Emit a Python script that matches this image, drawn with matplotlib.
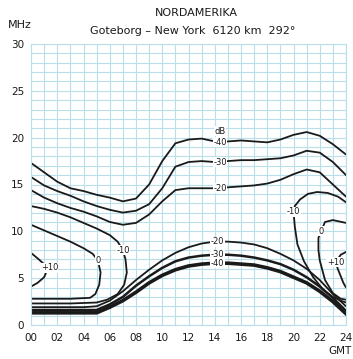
import numpy as np
import matplotlib.pyplot as plt

# hours (GMT) and contour frequencies (MHz)
hours = list(range(25))

# upper contours (MUF side)
up_m40 = [17.3, 16.3, 15.3, 14.6, 14.3, 13.9, 13.6, 13.2, 13.5, 15.0, 17.5, 19.4, 19.8,
          19.9, 19.6, 19.6, 19.7, 19.6, 19.5, 19.8, 20.3, 20.6, 20.2, 19.3, 18.2]
up_m30 = [15.8, 14.9, 14.3, 13.8, 13.2, 12.7, 12.3, 12.0, 12.2, 12.9, 14.6, 16.9, 17.4,
          17.5, 17.4, 17.5, 17.6, 17.6, 17.7, 17.8, 18.1, 18.6, 18.4, 17.4, 16.0]
up_m20 = [14.4, 13.6, 13.0, 12.5, 12.1, 11.6, 11.0, 10.7, 10.9, 11.8, 13.2, 14.4, 14.6,
          14.6, 14.6, 14.7, 14.8, 14.9, 15.1, 15.5, 16.1, 16.6, 16.3, 15.0, 13.7]

# lower contours (absorption side)
lo_m20 = [1.9, 1.9, 1.9, 1.9, 1.9, 2.0, 2.6, 3.6, 4.8, 5.9, 6.9, 7.7, 8.3,
          8.7, 8.9, 8.9, 8.8, 8.6, 8.2, 7.6, 6.9, 6.0, 4.8, 3.3, 2.0]
lo_m30 = [1.6, 1.6, 1.6, 1.6, 1.6, 1.6, 2.2, 3.0, 4.2, 5.2, 6.1, 6.8, 7.2,
          7.4, 7.5, 7.5, 7.4, 7.2, 6.9, 6.5, 5.9, 5.1, 4.1, 2.9, 1.5]
lo_m40 = [1.3, 1.3, 1.3, 1.3, 1.3, 1.3, 1.9, 2.6, 3.5, 4.5, 5.3, 5.9, 6.3,
          6.5, 6.6, 6.6, 6.5, 6.4, 6.1, 5.7, 5.1, 4.5, 3.6, 2.5, 1.2]

# closed-off contours near midnight (hour, MHz)
m10_left_h = [0, 1, 2, 3, 4, 5, 6, 6.6, 7.0, 7.2, 7.3, 7.1, 6.6, 5.8, 5.0, 3, 0]
m10_left_f = [12.7, 12.4, 12.0, 11.5, 10.9, 10.3, 9.6, 8.9, 8.0, 7.0, 5.6, 4.3, 3.3, 2.7, 2.4, 2.3, 2.3]
z_left_h = [0, 1, 2, 3, 4, 4.7, 5.1, 5.3, 5.2, 4.9, 4.5, 3, 0]
z_left_f = [10.7, 10.1, 9.5, 8.9, 8.2, 7.6, 6.9, 5.6, 4.3, 3.3, 2.9, 2.8, 2.8]
p10_left_h = [0, 0.6, 1.3, 1.0, 0.5, 0]
p10_left_f = [7.7, 7.0, 6.1, 5.1, 4.5, 4.1]

m10_right_h = [24, 23.4, 22.6, 21.8, 21.1, 20.5, 20.1, 20.0, 20.1, 20.3, 20.8, 21.5, 22.3, 23.0, 23.6, 24]
m10_right_f = [13.1, 13.7, 14.1, 14.2, 14.0, 13.4, 12.7, 12.1, 10.5, 8.6, 6.8, 5.1, 3.7, 3.0, 2.6, 2.4]
z_right_h = [24, 23.0, 22.4, 22.1, 21.9, 21.9, 22.0, 22.4, 23.0, 23.6, 24]
z_right_f = [10.9, 11.2, 11.0, 10.0, 9.3, 8.0, 6.9, 4.8, 3.4, 2.8, 2.7]
p10_right_h = [24, 23.6, 23.2, 23.4, 23.8, 24]
p10_right_f = [7.8, 7.5, 6.7, 5.9, 4.5, 4.0]

# contour labels: (text, hour, MHz)
labels = [("dB", 14.4, 20.7), ("-40", 14.4, 19.5), ("-30", 14.4, 17.4), ("-20", 14.4, 14.6),
          ("-20", 14.2, 8.9), ("-30", 14.2, 7.5), ("-40", 14.2, 6.6),
          ("-10", 7.0, 8.0), ("0", 5.1, 6.9), ("+10", 1.4, 6.1),
          ("-10", 20.0, 12.1), ("0", 22.1, 10.0), ("+10", 23.2, 6.7)]

xtick_vals = list(range(0, 25, 2))
xtick_labels = ["%02d" % v for v in xtick_vals]
ytick_vals = [0, 5, 10, 15, 20, 25, 30]

grid_col = "#b9deec"
ink = "#1a1a1a"

fig = plt.figure(figsize=(3.53, 3.59), dpi=100)
ax = fig.add_axes([31/353, 1 - 325/359, 315/353, 281/359])

kw = dict(color=ink, lw=1.3, solid_capstyle="round", solid_joinstyle="round")
for f in [up_m40, up_m30, up_m20, lo_m20]:
    ax.plot(hours, f, **kw)
ax.plot(hours, lo_m30, color=ink, lw=1.8)
ax.plot(hours, lo_m40, color=ink, lw=2.6)
for h, f in [(m10_left_h, m10_left_f), (z_left_h, z_left_f), (p10_left_h, p10_left_f),
             (m10_right_h, m10_right_f), (z_right_h, z_right_f), (p10_right_h, p10_right_f)]:
    ax.plot(h, f, **kw)

for txt, h, f in labels:
    ax.text(h, f, txt, fontsize=6, ha="center", va="center", color=ink,
            bbox=dict(fc="white", ec="none", pad=0.3))

ax.set_xlim(0, 24)
ax.set_ylim(0, 30)
ax.set_xticks(xtick_vals)
ax.set_xticklabels(xtick_labels)
ax.set_yticks(ytick_vals)
ax.set_xticks(range(25), minor=True)
ax.set_yticks(range(31), minor=True)
ax.tick_params(which="both", length=0, labelsize=7.5, colors=ink)
ax.tick_params(axis="x", pad=6)
ax.tick_params(axis="y", pad=5)
ax.grid(which="both", color=grid_col, lw=0.8)
ax.set_axisbelow(True)
for s in ax.spines.values():
    s.set_color(grid_col)

fig.text(196/353, 1 - 13/359, "NORDAMERIKA", fontsize=8, ha="center", va="center", color=ink)
fig.text(193/353, 1 - 31/359, "Goteborg \u2013 New York  6120 km  292\u00b0", fontsize=8,
         ha="center", va="center", color=ink)
fig.text(8/353, 1 - 25/359, "MHz", fontsize=8, ha="left", va="center", color=ink)
fig.text(340/353, 1 - 351/359, "GMT", fontsize=7.5, ha="center", va="center", color=ink)

fig.savefig("out.png", dpi=100)
